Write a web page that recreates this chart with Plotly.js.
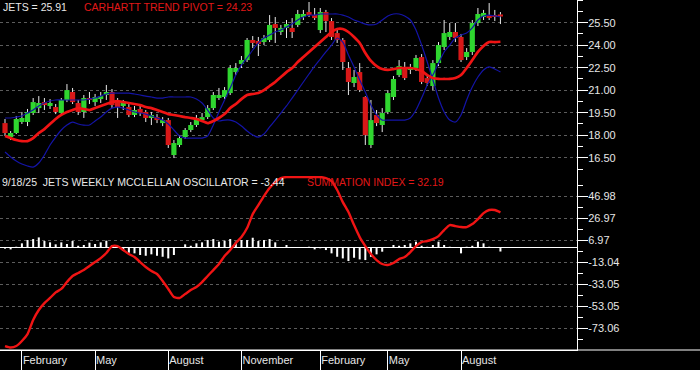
<!DOCTYPE html>
<html>
<head>
<meta charset="utf-8">
<script src="https://cdn.plot.ly/plotly-3.0.1.min.js"></script>
<style>html,body{margin:0;padding:0;background:#000;}#chart{width:700px;height:370px;}</style>
</head>
<body>
<div id="chart"></div>
<script>
// ---- data (weekly bars, Friday dates starting 2024-01-12) ----
const firstWeek = '2024-01-12';
const open  = [18.81,17.88,18.15,18.88,18.88,19.48,19.81,20.21,19.95,19.88,19.48,20.35,20.88,20.15,19.55,20.48,20.21,20.41,20.68,20.88,20.21,19.95,19.88,19.35,19.75,19.55,19.15,19.21,18.81,19.01,16.68,17.35,17.88,18.35,18.68,19.01,19.21,19.81,20.48,20.55,20.81,22.21,22.75,23.01,24.35,24.28,24.21,24.35,25.41,24.88,25.15,25.15,25.35,25.88,26.21,26.01,25.01,26.21,25.61,24.81,24.35,22.48,21.48,22.21,20.55,17.35,19.35,18.68,19.55,20.55,22.01,22.55,22.35,22.48,23.21,21.81,21.28,22.81,23.88,24.55,24.88,24.55,23.21,23.55,25.48,25.88,26.01,26.01,26.05];
const high  = [19.08,18.28,19.28,19.55,19.75,20.48,20.61,20.48,20.41,20.08,20.48,21.41,21.15,20.35,20.68,20.88,20.75,20.88,21.35,21.08,20.48,20.35,20.08,19.95,19.95,19.68,19.55,19.41,19.21,19.15,17.68,18.01,18.48,18.88,19.35,19.48,20.01,20.88,21.15,21.21,22.68,22.81,23.28,24.48,24.61,24.55,24.68,26.01,25.88,25.35,25.68,25.81,26.35,26.35,26.88,26.48,26.48,26.35,25.81,25.15,24.48,22.88,22.35,22.81,20.6,20.35,19.68,19.81,21.01,21.95,23.01,22.88,22.75,23.35,23.41,22.01,23.01,24.21,25.68,25.48,25.48,24.75,23.81,25.68,26.48,26.35,26.81,26.35,26.21];
const low   = [17.95,17.68,18.08,18.75,18.61,19.35,19.48,19.68,19.75,19.41,19.41,20.21,20.08,19.35,19.15,20.08,19.95,20.15,20.35,19.81,19.15,19.68,19.21,19.21,19.28,18.88,18.68,18.81,18.61,17.15,16.48,17.21,17.75,18.21,18.55,18.88,19.08,19.68,20.35,20.41,20.68,22.01,22.48,22.88,23.81,23.28,24.01,24.21,24.15,24.68,24.48,24.48,25.21,25.68,25.88,25.68,24.81,24.88,24.35,24.15,22.35,20.68,21.21,20.88,17.35,17.15,18.61,18.21,19.41,20.35,21.88,21.68,22.08,22.28,21.41,21.28,21.01,22.61,23.68,24.35,24.21,22.88,23.01,23.35,25.28,25.68,25.68,25.61,25.41];
const close = [18.15,18.15,19.08,19.15,19.55,20.21,20.15,20.01,20.15,19.55,20.35,21.01,20.21,19.55,20.48,20.35,20.55,20.61,20.88,20.01,19.88,20.15,19.35,19.68,19.48,19.15,19.35,19.01,19.01,17.35,17.48,17.81,18.35,18.68,19.15,19.21,19.81,20.68,20.68,21.01,22.48,22.48,23.01,24.35,24.15,24.08,24.48,25.35,25.15,25.15,25.41,24.88,26.08,26.08,26.01,25.81,26.21,25.61,24.55,24.35,22.88,21.55,21.88,21.01,18.01,19.01,18.81,19.48,20.81,21.75,22.61,21.81,22.55,23.15,21.55,21.48,22.81,24.01,24.81,24.88,24.48,23.01,23.55,25.48,26.08,26.15,25.81,25.88,25.91];
const trendPivot = [17.95,17.81,17.68,17.61,17.61,17.81,18.15,18.41,18.75,19.08,19.35,19.55,19.68,19.81,19.75,19.68,19.81,19.95,20.08,20.21,20.28,20.21,20.15,20.08,20.01,19.88,19.81,19.68,19.55,19.41,19.35,19.28,19.21,19.15,19.08,18.95,18.81,18.95,19.15,19.41,19.81,20.08,20.41,20.68,20.75,20.81,21.01,21.28,21.55,21.88,22.21,22.48,22.88,23.21,23.55,23.88,24.21,24.55,24.88,25.08,25.08,24.88,24.55,24.15,23.48,22.95,22.61,22.41,22.35,22.41,22.48,22.48,22.48,22.41,22.28,22.01,21.81,21.75,21.75,21.75,21.81,22.01,22.48,23.01,23.55,23.95,24.21,24.21,24.23];
const blueLineA = [19.15,19.15,19.21,19.28,19.48,19.68,19.95,20.15,20.28,20.35,20.35,20.35,20.35,20.35,20.35,20.41,20.48,20.61,20.75,20.81,20.81,20.81,20.81,20.75,20.68,20.61,20.55,20.48,20.48,20.55,20.55,20.55,20.55,20.55,20.41,20.15,19.68,19.15,18.95,19.01,19.01,18.88,18.61,18.28,18.01,17.88,18.08,18.55,19.01,19.48,19.95,20.48,21.01,21.55,22.08,22.61,23.08,23.55,24.01,24.48,24.21,23.35,22.55,21.68,20.88,20.01,19.35,19.01,19.01,19.01,19.01,19.01,19.15,19.68,20.48,21.35,22.01,22.81,23.55,24.01,24.48,24.68,24.81,25.15,25.68,25.95,26.01,25.95,25.88];
const blueLineB = [16.88,16.55,16.28,16.08,15.95,15.88,16.15,16.68,17.35,17.88,18.35,18.68,18.88,18.75,18.68,18.68,18.95,19.21,19.55,19.81,19.88,19.81,19.68,19.55,19.48,19.41,19.28,19.15,19.01,18.75,18.35,17.95,17.81,17.81,17.81,17.81,17.95,18.68,19.55,20.35,21.15,22.01,22.68,23.15,23.68,24.15,24.48,24.68,24.88,25.01,25.21,25.41,25.68,25.88,26.01,26.01,26.08,26.08,26.08,26.08,26.01,25.88,25.68,25.55,25.41,25.35,25.41,25.68,25.95,26.08,26.08,25.95,25.68,25.01,24.01,22.88,21.68,20.48,19.55,19.01,18.88,19.35,20.35,21.21,21.88,22.35,22.55,22.41,22.21];
const summationIndex = [-89.4,-90.7,-89.4,-84.8,-78.5,-65.7,-56.6,-50.3,-45.7,-40.6,-37.5,-31.2,-25.7,-23.0,-20.3,-16.6,-13.0,-9.4,-4.8,1.5,1.5,-2.1,-5.7,-8.5,-13.0,-17.5,-21.2,-23.9,-30.3,-37.5,-44.8,-45.7,-42.1,-38.5,-35.7,-31.2,-25.7,-20.3,-14.8,-7.5,-2.1,4.3,9.7,17.9,30.6,38.8,47.0,54.3,59.7,63.4,64.3,64.3,64.3,64.3,64.3,64.3,64.3,63.4,60.6,52.5,41.5,32.5,20.6,9.7,1.5,-5.7,-11.2,-14.8,-15.7,-13.9,-10.3,-8.5,-3.9,1.5,5.2,6.1,7.9,10.6,16.1,20.6,19.7,18.8,18.8,21.5,26.1,31.5,34.3,34.3,32.19];
const oscillator = [-0.8,-1.5,0.9,4.0,7.0,7.9,9.4,6.1,4.9,3.1,4.9,3.4,6.1,1.8,2.5,4.6,3.4,4.9,6.4,2.5,0.9,-3.0,-4.5,-5.1,-6.6,-7.3,-6.0,-7.3,-8.2,-9.7,-6.6,0.6,3.1,1.8,4.0,4.9,7.0,7.9,5.5,6.4,7.9,5.5,7.0,7.0,9.1,6.1,7.0,7.9,4.9,0.5,2.5,0.4,0.3,0.4,0.9,-1.5,-0.5,-2.1,-5.1,-8.2,-9.7,-12.1,-9.1,-10.6,-11.2,-8.2,-6.0,-3.6,0.5,2.5,1.8,2.5,4.0,5.5,1.8,0.9,2.5,5.5,2.5,0.9,0.3,-5.1,0.9,1.8,5.5,4.0,0.9,0.3,-3.44];
const priceTicks = [16.5,18.0,19.5,21.0,22.5,24.0,25.5];
const oscTicks = [46.98,26.97,6.97,-13.04,-33.05,-53.05,-73.06];
const quarterMonths = [1,4,7,10]; // February, May, August, November

// ---- derived ----
const DAY = 864e5, WEEK = 7*DAY;
const t0 = Date.parse(firstWeek + 'T00:00:00Z');
const dates = open.map((_, i) => new Date(t0 + i*WEEK).toISOString().slice(0,10));
const monthTicks = [];
dates.forEach((d, i) => {
  const m = new Date(d + 'T00:00:00Z').getUTCMonth();
  const pm = i > 0 ? new Date(dates[i-1] + 'T00:00:00Z').getUTCMonth() : -1;
  if (i > 0 && m !== pm && quarterMonths.includes(m)) monthTicks.push(d);
});
const xRange = [new Date(t0 - 0.89*WEEK).toISOString(), new Date(t0 + 101.6*WEEK).toISOString()];

const GREEN = '#2fd62f', RED = '#d81818';
const bodyBase = open.map((o, i) => Math.min(o, close[i]));
const bodyLen = open.map((o, i) => Math.max(Math.abs(close[i] - o), 0.04));
const bodyCol = open.map((o, i) => close[i] >= o ? GREEN : RED);

const wx = [], wy = [];
dates.forEach((d, i) => {
  const top = Math.max(open[i], close[i]), bot = Math.min(open[i], close[i]);
  wx.push(d, d, null, d, d, null);
  wy.push(top, high[i], null, low[i], bot, null);
});

const FONT = 'Liberation Sans, Arial, sans-serif';
const n = close.length - 1;

const traces = [
  {type:'scatter', mode:'lines', x:wx, y:wy, xaxis:'x', yaxis:'y', line:{color:'#e8e8e8', width:1}, connectgaps:false, hoverinfo:'skip'},
  {type:'bar', x:dates, y:bodyLen, base:bodyBase, xaxis:'x', yaxis:'y', width:WEEK*0.92, marker:{color:bodyCol, line:{width:0}}},
  {type:'scatter', mode:'lines', x:dates, y:blueLineA, xaxis:'x', yaxis:'y', line:{color:'#1414a8', width:1.2, shape:'spline', smoothing:0.6}},
  {type:'scatter', mode:'lines', x:dates, y:blueLineB, xaxis:'x', yaxis:'y', line:{color:'#1414a8', width:1.2, shape:'spline', smoothing:0.6}},
  {type:'scatter', mode:'lines', x:dates, y:trendPivot, xaxis:'x', yaxis:'y', line:{color:'#f01414', width:2.7, shape:'spline', smoothing:0.6}},
  {type:'bar', x:dates, y:oscillator, xaxis:'x', yaxis:'y2', width:WEEK*0.36, marker:{color:'#ffffff', line:{width:0}}},
  {type:'scatter', mode:'lines', x:dates, y:summationIndex, xaxis:'x', yaxis:'y2', line:{color:'#f01414', width:2.4, shape:'spline', smoothing:0.6}}
];

const tickFont = {family:FONT, size:11, color:'#e6e6e6'};
const yCommon = {
  side:'right', anchor:'x', showline:true, linecolor:'#ffffff', linewidth:1,
  ticks:'outside', ticklen:10, tickwidth:1, tickcolor:'#ffffff', tickfont:tickFont,
  showgrid:true, gridcolor:'#5c5c5c', griddash:'3px,3px', gridwidth:1,
  ticklabelstandoff:-2, fixedrange:true
};

const layout = {
  width:700, height:370,
  paper_bgcolor:'#000000', plot_bgcolor:'#000000',
  margin:{l:0, r:123, t:0, b:20},
  showlegend:false, barmode:'overlay',
  font:{family:FONT, color:'#e6e6e6'},
  xaxis:{
    type:'date', range:xRange, anchor:'y2', showgrid:false, zeroline:false,
    showline:true, linecolor:'#ffffff', linewidth:1,
    tickmode:'array', tickvals:monthTicks, tickformat:'%B',
    ticks:'outside', ticklen:20, tickwidth:1, tickcolor:'#ffffff',
    ticklabelposition:'outside right', ticklabelstandoff:0,
    tickfont:{family:FONT, size:11, color:'#e6e6e6'}
  },
  yaxis:Object.assign({}, yCommon, {
    domain:[0.497, 1], range:[15.28, 27.013], zeroline:false,
    tickmode:'array', tickvals:priceTicks, ticktext:priceTicks.map(v => v.toFixed(2)),
    minor:{tickmode:'linear', tick0:16.5, dtick:0.75, ticks:'outside', ticklen:5, tickcolor:'#ffffff', tickwidth:1, showgrid:false}
  }),
  yaxis2:Object.assign({}, yCommon, {
    domain:[0, 0.497], range:[-93, 65.2],
    zeroline:true, zerolinecolor:'#ffffff', zerolinewidth:1,
    tickmode:'array', tickvals:oscTicks, ticktext:oscTicks.map(v => v.toFixed(2)),
    minor:{tickmode:'linear', tick0:-73.06, dtick:10.0025, ticks:'outside', ticklen:5, tickcolor:'#ffffff', tickwidth:1, showgrid:false}
  }),
  shapes:[
    {type:'line', xref:'paper', yref:'paper', x0:0, x1:700/577, y0:0, y1:0, line:{color:'#ffffff', width:1}}
  ],
  annotations:[
    {xref:'paper', yref:'paper', x:0.0035, y:0.981, xanchor:'left', yanchor:'middle', showarrow:false, borderpad:0,
     text:'JETS = ' + close[n].toFixed(2), font:{family:FONT, size:10.5, color:'#e8e8e8'}},
    {xref:'paper', yref:'paper', x:0.1444, y:0.981, xanchor:'left', yanchor:'middle', showarrow:false, borderpad:0,
     text:'CARHARTT TREND PIVOT = ' + trendPivot[n].toFixed(2), font:{family:FONT, size:10.5, color:'#e01818'}},
    {xref:'paper', yref:'paper', x:0.001, y:0.4814, xanchor:'left', yanchor:'middle', showarrow:false, borderpad:0,
     text:'9/18/25\u00a0\u00a0JETS WEEKLY MCCLELLAN OSCILLATOR = ' + oscillator[n].toFixed(2), font:{family:FONT, size:10.5, color:'#e8e8e8'}},
    {xref:'paper', yref:'paper', x:0.5303, y:0.4814, xanchor:'left', yanchor:'middle', showarrow:false, borderpad:0,
     text:'SUMMATION INDEX = ' + summationIndex[n].toFixed(2), font:{family:FONT, size:10.5, color:'#e01818'}}
  ]
};

Plotly.newPlot('chart', traces, layout, {staticPlot:true, displayModeBar:false});
</script>
</body>
</html>
